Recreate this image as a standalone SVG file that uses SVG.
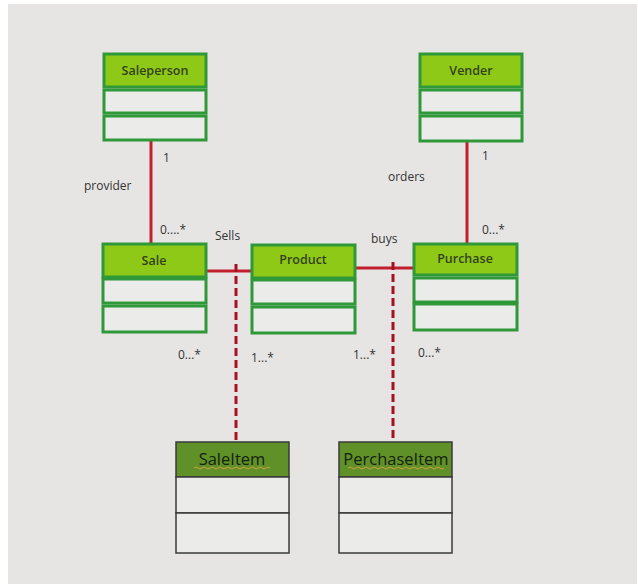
<svg xmlns="http://www.w3.org/2000/svg" width="638" height="585" viewBox="0 0 638 585">
<defs>
<style>
.hdr{fill:#8dc916;stroke:#2f9838;stroke-width:3}
.cmp{fill:#ebebea;stroke:#2f9838;stroke-width:3}
.hdr2{fill:#5f9128;stroke:#3a3a3a;stroke-width:1.5}
.cmp2{fill:#ebebea;stroke:#3a3a3a;stroke-width:1.5}
.t{font-family:"Open Sans","Liberation Sans",sans-serif;font-size:12.5px;font-weight:600;fill:#34421a;text-anchor:middle}
.t2{font-family:"Open Sans","Liberation Sans",sans-serif;font-size:16.5px;fill:#16220c;text-anchor:middle}
.lbl{font-family:"Open Sans","Liberation Sans",sans-serif;font-size:12px;fill:#333}
.solid{stroke:#c21f2e;stroke-width:3;fill:none}
.dash{stroke:#a3121f;stroke-width:3;fill:none;stroke-dasharray:8 4}
.wave{stroke:#d0a040;stroke-width:1;fill:none}
</style>
</defs>
<rect x="0" y="0" width="638" height="585" fill="#ffffff"/>
<rect x="8" y="4" width="629" height="580" fill="#e7e5e4"/>

<g id="connectors">
<line class="solid" x1="151" y1="140" x2="151" y2="243"/>
<line class="solid" x1="467" y1="141" x2="467" y2="243"/>
<line class="solid" x1="206" y1="271" x2="252" y2="271"/>
<line class="solid" x1="355" y1="268" x2="413" y2="268"/>
<line class="dash" x1="236" y1="264" x2="236" y2="442"/>
<line class="dash" x1="393" y1="262" x2="393" y2="442"/>
</g>

<g id="labels">
<text class="lbl" x="163" y="162">1</text>
<text class="lbl" x="84" y="190">provider</text>
<text class="lbl" x="160" y="234">0....*</text>
<text class="lbl" x="215" y="240">Sells</text>
<text class="lbl" x="371" y="243">buys</text>
<text class="lbl" x="482" y="160">1</text>
<text class="lbl" x="388" y="181">orders</text>
<text class="lbl" x="482" y="234">0...*</text>
<text class="lbl" x="178" y="359">0...*</text>
<text class="lbl" x="251" y="362">1...*</text>
<text class="lbl" x="353" y="359">1...*</text>
<text class="lbl" x="418" y="357">0...*</text>
</g>

<g id="saleperson">
<rect class="hdr" x="104" y="54" width="102" height="33"/>
<rect class="cmp" x="104" y="90" width="102" height="23"/>
<rect class="cmp" x="104" y="116" width="102" height="24"/>
<text class="t" x="155" y="75">Saleperson</text>
</g>

<g id="vender">
<rect class="hdr" x="420" y="54" width="102" height="33"/>
<rect class="cmp" x="420" y="90" width="102" height="23"/>
<rect class="cmp" x="420" y="116" width="102" height="25"/>
<text class="t" x="471" y="75">Vender</text>
</g>

<g id="sale">
<rect class="hdr" x="103" y="244" width="103" height="33"/>
<rect class="cmp" x="103" y="279" width="103" height="24"/>
<rect class="cmp" x="103" y="306" width="103" height="26"/>
<text class="t" x="154" y="265">Sale</text>
</g>

<g id="product">
<rect class="hdr" x="252" y="245" width="103" height="33"/>
<rect class="cmp" x="252" y="280" width="103" height="24"/>
<rect class="cmp" x="252" y="307" width="103" height="26"/>
<text class="t" x="303" y="264">Product</text>
</g>

<g id="purchase">
<rect class="hdr" x="414" y="244" width="103" height="31"/>
<rect class="cmp" x="414" y="278" width="103" height="24"/>
<rect class="cmp" x="414" y="304" width="103" height="26"/>
<text class="t" x="465" y="263">Purchase</text>
</g>

<g id="saleitem">
<rect class="hdr2" x="176" y="442" width="113" height="35"/>
<rect class="cmp2" x="176" y="477" width="113" height="36"/>
<rect class="cmp2" x="176" y="513" width="113" height="40"/>
<text class="t2" x="232" y="465">SaleItem</text>
<path class="wave" d="M194 468 q2 -2 4 0 t4 0 t4 0 t4 0 t4 0 t4 0 t4 0 t4 0 t4 0 t4 0 t4 0 t4 0 t4 0 t4 0 t4 0 t4 0 t4 0 t4 0 t4 0"/>
</g>

<g id="perchaseitem">
<rect class="hdr2" x="339" y="442" width="113" height="35"/>
<rect class="cmp2" x="339" y="477" width="113" height="36"/>
<rect class="cmp2" x="339" y="513" width="113" height="40"/>
<text class="t2" x="396" y="465">PerchaseItem</text>
<path class="wave" d="M348 468 q2 -2 4 0 t4 0 t4 0 t4 0 t4 0 t4 0 t4 0 t4 0 t4 0 t4 0 t4 0 t4 0 t4 0 t4 0 t4 0 t4 0 t4 0 t4 0 t4 0 t4 0 t4 0 t4 0 t4 0 t4 0"/>
</g>
</svg>
